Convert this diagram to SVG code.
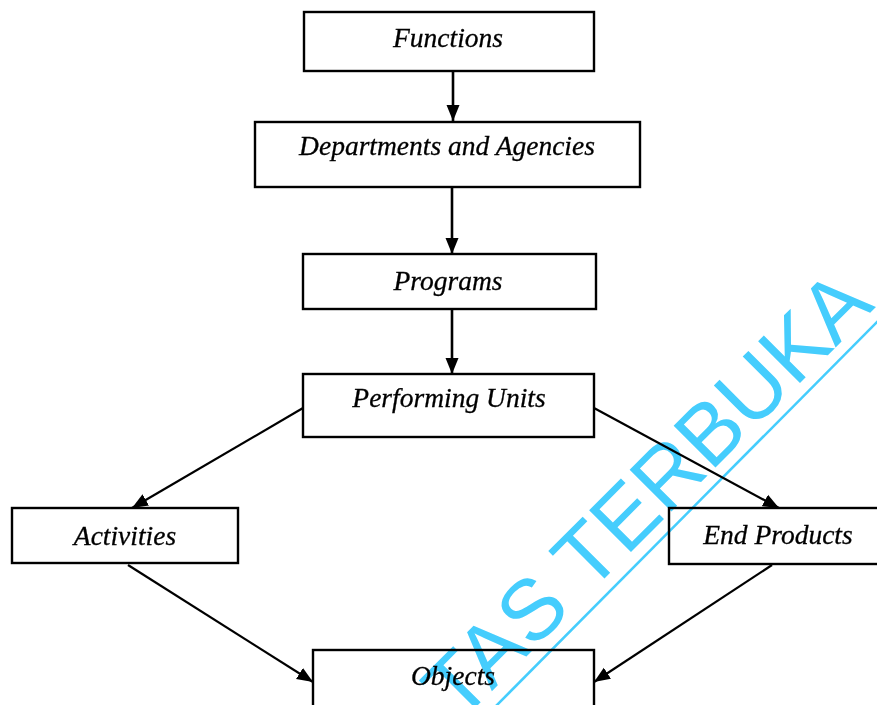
<svg xmlns="http://www.w3.org/2000/svg" width="877" height="705" viewBox="0 0 877 705">
<style>
.box{fill:#fff;stroke:#000;stroke-width:2.4}
.lbl{font-family:"Liberation Serif","Times New Roman",serif;font-style:italic;font-size:27.5px;fill:#000;stroke:#000;stroke-width:0.3;text-anchor:middle}
.conn{stroke:#000;stroke-width:2.2;fill:none;marker-end:url(#ah)}
.v{stroke-width:2.6}
.wm{mix-blend-mode:multiply}
</style>
<defs>
<marker id="ah" markerUnits="userSpaceOnUse" markerWidth="18" markerHeight="14" refX="16" refY="7" orient="auto">
<path d="M0,0.5 L16,7 L0,13.5 z" fill="#000"/>
</marker>
</defs>
<rect width="877" height="705" fill="#fff"/>
<g id="connectors">
<line class="conn v" x1="453" y1="71" x2="453" y2="121"/>
<line class="conn v" x1="452" y1="187" x2="452" y2="254"/>
<line class="conn v" x1="452" y1="309" x2="452" y2="374"/>
<line class="conn" x1="303" y1="408" x2="132" y2="508"/>
<line class="conn" x1="594" y1="408" x2="779" y2="508"/>
<line class="conn" x1="128" y1="565" x2="313" y2="682"/>
<line class="conn" x1="772" y1="565" x2="594" y2="682"/>
</g>
<g id="functions"><rect class="box" x="304" y="12" width="290" height="59"/><text class="lbl" x="448" y="47">Functions</text></g>
<g id="departments"><rect class="box" x="255" y="122" width="385" height="65"/><text class="lbl" x="447" y="155">Departments and Agencies</text></g>
<g id="programs"><rect class="box" x="303" y="254" width="293" height="55"/><text class="lbl" x="448" y="290">Programs</text></g>
<g id="performing-units"><rect class="box" x="303" y="374" width="291" height="63"/><text class="lbl" x="449" y="407">Performing Units</text></g>
<g id="activities"><rect class="box" x="12" y="508" width="226" height="55"/><text class="lbl" x="125" y="545">Activities</text></g>
<g id="end-products"><rect class="box" x="669" y="508" width="220" height="56"/><text class="lbl" x="778" y="544">End Products</text></g>
<g id="objects"><rect class="box" x="313" y="650" width="281" height="70"/><text class="lbl" x="453" y="685">Objects</text></g>
<g id="watermark" class="wm">
<text transform="translate(876,307) rotate(-45)" x="0" y="0" text-anchor="end" font-family="Liberation Sans, Arial, sans-serif" font-size="86" fill="#45cdfd">TAS TERBUKA</text>
<line x1="879" y1="320" x2="494" y2="708" stroke="#45cdfd" stroke-width="2.5"/>
</g>
</svg>
